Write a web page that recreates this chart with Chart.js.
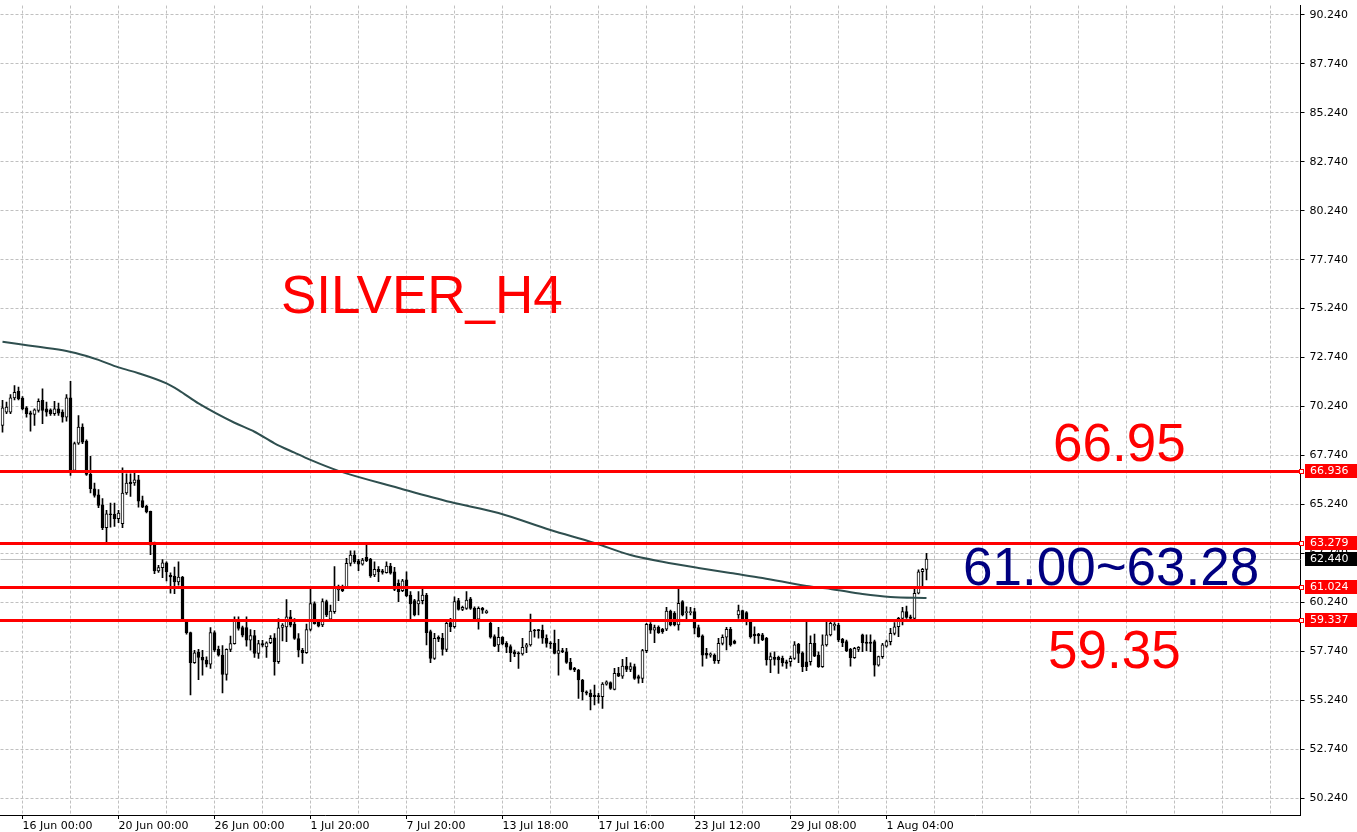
<!DOCTYPE html>
<html>
<head>
<meta charset="utf-8">
<script src="https://cdn.jsdelivr.net/npm/chart.js@4.4.1/dist/chart.umd.min.js"></script>
<style>
  html, body { margin: 0; padding: 0; background: #fff; }
  #chart { display: block; }
</style>
</head>
<body>
<canvas id="chart" width="1357" height="832"></canvas>
<script>
// H4 candles (oldest first)
const open = [
  69.27, 69.95, 69.95, 70.68, 71.01, 70.67, 70.17, 69.92, 69.83, 70.04, 70.55, 70.12, 70.07, 69.87, 70.12, 69.95,
  69.70, 70.68, 66.97, 68.37, 69.19, 68.47, 66.77, 66.04, 65.73, 65.22, 64.05, 64.76, 64.73, 64.51, 64.25, 65.82,
  66.38, 66.33, 66.50, 65.44, 65.14, 64.88, 63.15, 61.84, 62.01, 62.25, 61.62, 61.58, 61.28, 61.53, 59.32, 58.69,
  57.15, 57.69, 57.42, 57.28, 57.08, 58.69, 57.83, 57.54, 56.55, 57.83, 58.13, 59.32, 58.95, 58.95, 58.30, 58.54,
  57.62, 58.13, 57.96, 58.17, 58.42, 57.20, 58.95, 58.98, 59.49, 59.12, 58.39, 57.79, 57.66, 58.85, 60.17, 59.24,
  59.08, 60.27, 59.37, 59.76, 60.87, 61.00, 61.00, 62.23, 62.65, 62.35, 62.18, 62.53, 62.43, 61.63, 61.92, 61.84,
  61.75, 62.09, 61.80, 61.21, 60.83, 61.38, 60.61, 60.32, 60.15, 60.32, 60.61, 58.74, 57.37, 58.45, 58.40, 57.83,
  59.20, 58.99, 60.32, 59.88, 59.93, 60.41, 59.93, 59.37, 59.93, 59.71, 59.16, 58.48, 58.06, 58.45, 58.14, 57.97,
  57.71, 57.66, 57.60, 57.94, 58.06, 58.82, 58.82, 58.82, 58.40, 58.17, 58.14, 57.63, 57.77, 57.71, 57.17, 56.86,
  56.78, 56.27, 55.67, 55.59, 55.50, 55.47, 55.42, 56.06, 56.13, 55.79, 56.61, 56.47, 56.98, 56.81, 56.95, 56.44,
  56.35, 57.77, 59.11, 58.82, 58.96, 58.86, 58.86, 59.79, 59.67, 59.08, 60.27, 59.71, 59.71, 59.76, 58.94, 58.52,
  57.63, 57.54, 57.54, 57.25, 58.14, 58.45, 58.86, 58.26, 59.59, 59.81, 59.71, 59.25, 58.62, 58.62, 58.57, 58.40,
  57.29, 57.43, 57.43, 57.37, 57.20, 57.20, 57.37, 58.09, 57.66, 57.20, 57.20, 58.14, 57.54, 56.95, 58.06, 58.57,
  59.03, 59.08, 58.35, 58.23, 57.83, 57.41, 57.83, 58.57, 58.21, 58.21, 58.23, 57.03, 57.46, 58.00, 58.23, 58.65,
  58.99, 59.42, 59.76, 59.50, 59.42, 60.70, 61.80, 61.92
];
const high = [
  70.55, 70.46, 70.85, 71.31, 71.23, 70.75, 70.24, 70.00, 70.12, 70.63, 71.14, 70.46, 70.12, 70.51, 70.41, 70.07,
  70.85, 71.52, 68.42, 69.78, 69.36, 68.54, 67.69, 66.33, 65.99, 65.53, 64.94, 65.31, 65.31, 64.94, 67.11, 66.80,
  66.80, 66.84, 66.72, 65.66, 65.19, 64.90, 63.32, 62.13, 62.42, 62.30, 61.74, 62.04, 62.31, 61.57, 59.36, 58.71,
  57.79, 57.83, 57.79, 57.45, 58.95, 58.78, 58.00, 58.03, 57.86, 58.51, 59.49, 59.49, 59.02, 59.49, 58.85, 58.81,
  58.30, 58.30, 58.22, 58.54, 58.64, 59.41, 59.15, 60.38, 59.83, 59.41, 58.64, 57.88, 59.12, 60.94, 60.26, 59.36,
  60.41, 60.35, 60.10, 62.06, 61.12, 61.12, 62.48, 62.87, 62.87, 62.43, 62.48, 63.17, 62.48, 62.31, 62.06, 61.92,
  62.31, 62.23, 62.02, 61.38, 61.41, 61.80, 60.78, 60.39, 60.78, 60.90, 60.70, 58.82, 58.65, 58.52, 58.65, 59.33,
  59.42, 60.52, 60.44, 60.05, 60.78, 60.49, 60.01, 60.01, 59.98, 59.84, 59.25, 58.57, 58.96, 58.48, 58.23, 58.06,
  57.80, 57.71, 58.40, 58.14, 59.64, 58.86, 58.86, 59.08, 58.57, 58.23, 58.82, 58.35, 57.89, 57.89, 57.37, 56.91,
  56.81, 56.30, 55.72, 55.76, 56.01, 55.59, 56.13, 56.22, 56.18, 56.86, 56.91, 57.32, 57.43, 57.15, 57.08, 56.52,
  57.83, 59.16, 59.20, 59.08, 59.03, 58.91, 59.98, 59.84, 59.76, 60.95, 60.32, 60.01, 59.98, 59.93, 59.08, 58.57,
  57.89, 57.66, 57.60, 58.40, 58.57, 58.96, 58.96, 58.31, 60.10, 59.84, 59.76, 59.33, 58.99, 58.65, 58.65, 58.45,
  57.66, 57.71, 57.49, 57.49, 57.29, 57.49, 58.23, 58.14, 57.71, 59.25, 58.52, 58.62, 57.71, 58.57, 59.25, 59.25,
  59.20, 59.16, 58.40, 58.31, 57.89, 57.94, 57.97, 58.62, 58.57, 58.57, 58.31, 57.49, 58.14, 58.31, 58.91, 59.20,
  59.47, 59.98, 60.05, 59.59, 60.95, 61.89, 61.97, 62.74
];
const low = [
  68.93, 69.87, 69.87, 70.58, 70.58, 70.07, 69.70, 68.98, 69.27, 69.95, 69.36, 69.75, 69.78, 69.78, 69.78, 69.44,
  69.49, 66.72, 66.89, 68.30, 68.34, 66.72, 65.82, 65.61, 65.07, 63.95, 63.32, 64.08, 64.12, 64.30, 64.05, 65.75,
  65.65, 66.21, 65.10, 65.07, 64.80, 62.67, 61.70, 61.77, 61.50, 61.33, 60.71, 60.68, 61.11, 59.29, 58.61, 55.51,
  57.11, 56.29, 56.51, 56.94, 56.86, 57.71, 57.48, 55.61, 56.26, 57.71, 58.10, 58.81, 58.47, 57.99, 57.79, 57.42,
  57.37, 57.96, 57.42, 58.13, 56.51, 57.11, 58.27, 58.22, 58.98, 58.34, 57.45, 57.11, 57.62, 58.78, 59.12, 58.98,
  58.99, 59.50, 59.30, 59.67, 60.32, 60.78, 60.95, 62.09, 62.23, 61.85, 62.14, 62.31, 61.51, 61.55, 61.29, 61.68,
  61.72, 61.68, 60.83, 60.27, 60.78, 60.52, 59.37, 59.54, 59.59, 60.15, 58.06, 57.15, 57.32, 58.23, 57.54, 57.71,
  58.74, 58.91, 59.84, 59.81, 59.88, 59.88, 59.33, 58.86, 59.67, 59.67, 58.40, 57.97, 57.71, 58.06, 57.66, 57.20,
  57.46, 56.86, 57.54, 57.66, 58.00, 58.45, 58.40, 58.14, 57.94, 57.88, 57.60, 56.52, 57.66, 57.12, 56.78, 56.69,
  55.33, 55.25, 55.50, 54.74, 54.99, 55.08, 54.82, 56.01, 55.79, 55.76, 56.44, 56.35, 56.69, 56.69, 56.30, 56.10,
  56.13, 57.66, 58.65, 58.17, 58.65, 58.65, 58.79, 59.03, 59.03, 58.82, 59.54, 59.37, 59.59, 58.62, 58.45, 56.98,
  57.37, 57.43, 57.12, 57.12, 58.06, 57.80, 58.00, 58.11, 59.42, 59.30, 59.08, 58.40, 58.14, 58.14, 58.28, 57.03,
  56.64, 57.03, 56.61, 56.98, 56.86, 56.98, 57.32, 57.15, 56.69, 56.74, 57.03, 57.46, 56.91, 56.91, 58.00, 58.52,
  58.82, 58.23, 57.97, 57.71, 56.98, 57.37, 57.71, 57.71, 57.77, 57.71, 56.47, 56.98, 57.37, 57.94, 58.06, 58.57,
  58.48, 59.08, 59.42, 59.37, 59.37, 60.66, 61.04, 61.38
];
const close = [
  70.17, 70.21, 70.68, 70.97, 70.63, 70.12, 69.87, 69.83, 70.07, 70.51, 70.04, 69.95, 69.87, 70.12, 69.90, 69.70,
  70.68, 66.97, 68.34, 69.19, 68.42, 66.77, 66.04, 65.70, 65.19, 64.05, 64.76, 64.71, 64.51, 64.80, 65.82, 66.33,
  66.30, 66.50, 65.41, 65.10, 64.85, 63.15, 61.84, 62.01, 62.25, 61.79, 61.53, 61.28, 61.53, 59.32, 58.68, 57.15,
  57.66, 57.42, 57.28, 57.08, 58.69, 57.79, 57.54, 56.55, 57.83, 58.13, 59.32, 58.90, 58.56, 58.30, 58.54, 57.62,
  58.13, 58.05, 58.17, 58.40, 57.20, 58.93, 59.07, 59.49, 59.07, 58.39, 57.79, 57.66, 58.85, 60.17, 59.15, 59.02,
  60.27, 59.59, 59.79, 61.04, 61.00, 60.83, 62.23, 62.65, 62.31, 62.18, 62.40, 62.36, 61.58, 61.92, 61.80, 61.77,
  62.09, 61.72, 60.90, 60.78, 61.34, 60.58, 60.15, 59.59, 60.32, 60.61, 58.69, 57.37, 58.40, 58.36, 57.83, 59.16,
  58.99, 60.27, 59.88, 59.98, 60.35, 59.93, 59.37, 59.93, 59.84, 59.79, 58.45, 58.00, 58.45, 58.11, 57.94, 57.66,
  57.60, 57.60, 57.94, 58.06, 58.77, 58.77, 58.79, 58.40, 58.14, 58.11, 57.63, 57.77, 57.70, 57.17, 56.81, 56.78,
  56.27, 55.67, 55.59, 55.42, 55.42, 55.42, 56.06, 56.18, 55.84, 56.61, 56.47, 56.98, 56.81, 56.95, 56.35, 56.35,
  57.77, 59.11, 58.82, 58.94, 58.69, 58.74, 59.79, 59.08, 59.08, 60.18, 59.59, 59.76, 59.76, 58.91, 58.48, 57.54,
  57.54, 57.60, 57.25, 58.14, 58.45, 58.86, 58.06, 58.14, 59.81, 59.37, 59.37, 58.48, 58.52, 58.52, 58.31, 57.29,
  57.46, 57.32, 57.29, 57.15, 57.12, 57.37, 58.06, 57.63, 56.95, 56.95, 58.14, 57.49, 56.95, 58.06, 58.57, 59.16,
  59.11, 58.31, 58.17, 57.77, 57.41, 57.89, 57.94, 58.17, 58.14, 58.14, 57.03, 57.46, 58.06, 58.23, 58.65, 58.99,
  59.42, 59.76, 59.47, 59.42, 60.70, 61.80, 61.92, 62.44
];

// moving average, sampled along the drawn curve (bar index -> value)
const maBar   = [0, 4, 9, 16, 21, 24, 29, 34, 41, 44, 49, 58, 63, 68, 73, 77, 84, 99, 112, 124, 137, 148, 157, 165, 174, 182, 190, 201, 207, 215, 222, 231];
const maValue = [73.55, 73.43, 73.29, 73.08, 72.82, 72.62, 72.24, 71.94, 71.42, 71.08, 70.40, 69.41, 68.95, 68.36, 67.88, 67.51,
                 66.95, 66.08, 65.36, 64.80, 63.93, 63.27, 62.65, 62.31, 61.99, 61.73, 61.48, 61.07, 60.92, 60.66, 60.51, 60.46];

const timeLabels = ['16 Jun 00:00', '20 Jun 00:00', '26 Jun 00:00', '1 Jul 20:00', '7 Jul 20:00',
                    '13 Jul 18:00', '17 Jul 16:00', '23 Jul 12:00', '29 Jul 08:00', '1 Aug 04:00'];
const priceTicks = [50.24, 52.74, 55.24, 57.74, 60.24, 62.74, 65.24, 67.74, 70.24, 72.74, 75.24, 77.74, 80.24, 82.74, 85.24, 87.74, 90.24];
const levels = [66.936, 63.279, 61.024, 59.337];
const lastPrice = 62.44;

const totalBars = 325;      // visible slots incl. empty space on the right
const firstLabelBar = 5;
const labelEvery = 24;
const gridEvery = 12;
// where the top and bottom price ticks sit on the canvas
const topTickY = 15, bottomTickY = 798;

const labels = Array.from({ length: totalBars }, (_, i) => {
  const k = i - firstLabelBar;
  return (k >= 0 && k % labelEvery === 0) ? (timeLabels[k / labelEvery] || '') : '';
});
const wicks = low.map((l, i) => [l, high[i]]);
const bodies = open.map((o, i) => [o, close[i]]);
const maData = new Array(close.length).fill(null);
maBar.forEach((b, i) => { maData[b] = maValue[i]; });

const isBull = i => close[i] >= open[i];
const isGrid = i => i >= firstLabelBar && (i - firstLabelBar) % gridEvery === 0;
const isLabel = i => i >= firstLabelBar && (i - firstLabelBar) % labelEvery === 0 && labels[i] !== '';

const RED = '#ff0000';
const GRID = '#c0c0c0';
const BIG_FONT = '53px "Liberation Sans", Arial, sans-serif';

const overlay = {
  id: 'overlay',
  afterLayout(chart) {
    // stretch the price range so the ticks land where the terminal put them
    const s = chart.scales.y;
    const lo = priceTicks[0], hi = priceTicks[priceTicks.length - 1];
    const ppu = (bottomTickY - topTickY) / (hi - lo);
    s.max = hi + (topTickY - s.top) / ppu;
    s.min = lo - (s.bottom - bottomTickY) / ppu;
    s.configure();
  },
  beforeDatasetsDraw(chart) {
    const { ctx, chartArea } = chart;
    const y = Math.round(chart.scales.y.getPixelForValue(lastPrice)) + 0.5;
    ctx.save();
    ctx.strokeStyle = GRID;
    ctx.lineWidth = 1;
    ctx.beginPath();
    ctx.moveTo(chartArea.left, y);
    ctx.lineTo(chartArea.right, y);
    ctx.stroke();
    ctx.restore();
  },
  afterDatasetsDraw(chart) {
    const { ctx, chartArea } = chart;
    const ys = chart.scales.y;
    ctx.save();
    ctx.strokeStyle = RED;
    ctx.lineWidth = 3;
    levels.forEach(v => {
      const y = Math.round(ys.getPixelForValue(v)) + 0.5;
      ctx.beginPath();
      ctx.moveTo(0, y);
      ctx.lineTo(chartArea.right + 2, y);
      ctx.stroke();
    });
    ctx.font = BIG_FONT;
    ctx.textBaseline = 'alphabetic';
    ctx.fillStyle = RED;
    ctx.fillText('SILVER_H4', 281, 313);
    ctx.fillText('66.95', 1053, 461);
    ctx.fillText('59.35', 1048, 668);
    ctx.fillStyle = '#000080';
    ctx.fillText('61.00~63.28', 963, 585);
    ctx.restore();
  },
  afterDraw(chart) {
    const { ctx, chartArea } = chart;
    const ys = chart.scales.y;
    const boxX = Math.round(chartArea.right) + 4;
    const boxW = chart.width - boxX;
    ctx.save();
    ctx.font = '11px "DejaVu Sans"';
    ctx.textBaseline = 'middle';
    const tag = (v, bg) => {
      const y = Math.round(ys.getPixelForValue(v));
      ctx.fillStyle = bg;
      ctx.fillRect(boxX, y - 7, boxW, 14);
      ctx.fillStyle = '#fff';
      ctx.fillText(v.toFixed(3), boxX + 5, y + 0.5);
    };
    levels.forEach(v => {
      tag(v, RED);
      const y = Math.round(ys.getPixelForValue(v));
      const x = Math.round(chartArea.right);
      ctx.fillStyle = RED;
      ctx.fillRect(x - 2, y - 2, 5, 5);
      ctx.fillStyle = '#fff';
      ctx.fillRect(x - 1, y - 1, 3, 3);
    });
    tag(lastPrice, '#000');
    ctx.restore();
  }
};

new Chart(document.getElementById('chart'), {
  type: 'bar',
  data: {
    labels: labels,
    datasets: [
      {
        type: 'line',
        label: 'MA',
        data: maData,
        borderColor: '#2f4f4f',
        borderWidth: 2,
        pointRadius: 0,
        spanGaps: true,
        cubicInterpolationMode: 'monotone',
        order: 0
      },
      {
        label: 'body',
        data: bodies,
        grouped: false,
        barThickness: 3,
        minBarLength: 1,
        borderWidth: 1,
        borderSkipped: false,
        borderColor: '#000',
        backgroundColor: c => isBull(c.dataIndex) ? '#fff' : '#000',
        order: 1
      },
      {
        label: 'wick',
        data: wicks,
        grouped: false,
        barThickness: 1,
        borderWidth: 0,
        backgroundColor: '#000',
        order: 2
      }
    ]
  },
  options: {
    responsive: false,
    animation: false,
    devicePixelRatio: 1,
    layout: { padding: { left: 0.5, top: 0, right: 0, bottom: 0 } },
    plugins: {
      legend: { display: false },
      tooltip: { enabled: false }
    },
    scales: {
      x: {
        offset: true,
        grid: {
          offset: false,
          color: c => isGrid(c.index) ? GRID : 'rgba(0,0,0,0)',
          tickColor: c => isLabel(c.index) ? '#000' : 'rgba(0,0,0,0)',
          tickLength: 4
        },
        border: { color: '#000', width: 1, dash: [3, 2] },
        ticks: {
          autoSkip: false,
          maxRotation: 0,
          minRotation: 0,
          align: 'start',
          padding: 1,
          color: '#000',
          font: { family: 'DejaVu Sans', size: 11 },
          callback: (v, i) => labels[i]
        },
        afterFit: s => { s.height = 17; }
      },
      y: {
        position: 'right',
        min: 49.3715,
        max: 91.0063,
        afterBuildTicks: s => { s.ticks = priceTicks.map(v => ({ value: v })); },
        grid: { color: GRID, tickColor: '#000', tickLength: 4 },
        border: { color: '#000', width: 1, dash: [3, 2] },
        ticks: {
          color: '#000',
          font: { family: 'DejaVu Sans', size: 11, lineHeight: 0.1 },
          padding: 5,
          callback: v => Number(v).toFixed(3)
        },
        afterFit: s => { s.width = 56.5; }
      }
    }
  },
  plugins: [overlay]
});
</script>
</body>
</html>
